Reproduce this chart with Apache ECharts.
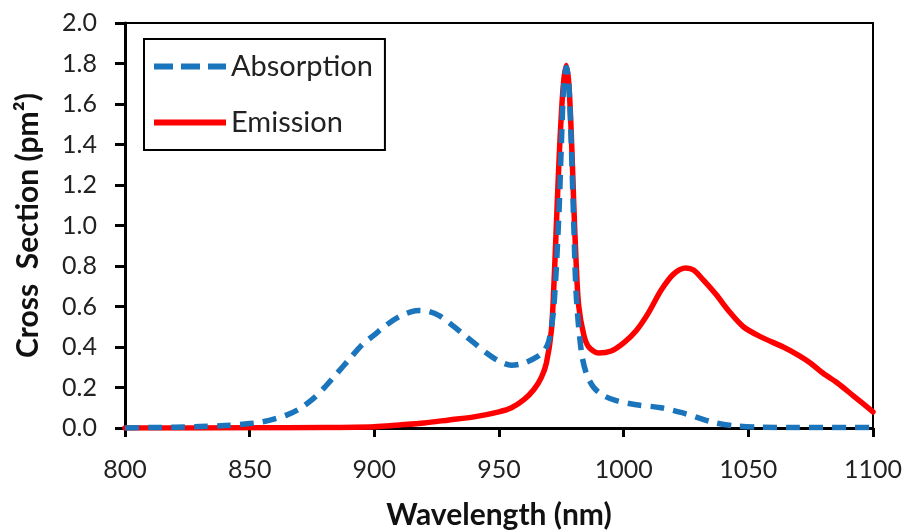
<!DOCTYPE html>
<html><head><meta charset="utf-8">
<script src="https://cdn.jsdelivr.net/npm/echarts@6/dist/echarts.min.js"></script>
<style>html,body{margin:0;padding:0;background:#fff}#c{width:911px;height:532px}</style>
</head><body><div id="c"></div>
<script>
const xTicks = [800, 850, 900, 950, 1000, 1050, 1100];
const yTicks = [0, 0.2, 0.4, 0.6, 0.8, 1.0, 1.2, 1.4, 1.6, 1.8, 2.0];

const absWl = [800,810,820,830,840,850,855,860,865,870,875,880,885,890,895,900,905,910,915,918,922,926,930,935,940,945,950,955,960,965,968,970,972,974,975,976,977,978,979,980,981,983,985,988,992,997,1005,1015,1025,1030,1037,1045,1055,1070,1100];
const absVal = [0,0.002,0.004,0.007,0.012,0.022,0.03,0.045,0.065,0.095,0.14,0.2,0.27,0.34,0.41,0.46,0.51,0.55,0.575,0.58,0.575,0.555,0.52,0.47,0.42,0.37,0.33,0.31,0.32,0.35,0.38,0.43,0.6,1.05,1.4,1.7,1.78,1.7,1.4,1.0,0.65,0.38,0.27,0.2,0.16,0.135,0.115,0.1,0.07,0.05,0.025,0.01,0.004,0.002,0.002];

const emWl = [800,850,880,900,910,920,930,940,950,955,960,964,967,969,971,972,973,974,975,976,977,978,979,980,981,982,984,986,990,995,1000,1005,1010,1015,1020,1025,1028,1032,1037,1042,1048,1055,1064,1070,1075,1080,1086,1092,1096,1100];
const emVal = [0,0.001,0.002,0.006,0.015,0.025,0.04,0.055,0.08,0.1,0.14,0.19,0.25,0.32,0.48,0.7,1.0,1.3,1.55,1.72,1.79,1.7,1.45,1.1,0.8,0.6,0.46,0.4,0.37,0.38,0.42,0.48,0.57,0.68,0.76,0.79,0.78,0.73,0.66,0.58,0.50,0.45,0.40,0.36,0.32,0.27,0.22,0.16,0.12,0.08];

const absData = absWl.map((w, i) => [w, absVal[i]]);
const emData = emWl.map((w, i) => [w, emVal[i]]);

const font = 'Lato, "Open Sans", sans-serif';
const chart = echarts.init(document.getElementById('c'));
chart.setOption({
  animation: false,
  backgroundColor: '#fff',
  grid: { left: 125, right: 38, top: 23, bottom: 104, containLabel: false, outerBoundsMode: 'none',
          show: true, borderColor: '#000', borderWidth: 2, backgroundColor: 'transparent' },
  legend: {
    left: 144, top: 39, orient: 'vertical',
    padding: [13, 12, 13, 10],
    borderColor: '#000', borderWidth: 2,
    itemWidth: 72, itemHeight: 6, itemGap: 27,
    textStyle: { fontFamily: font, fontSize: 29, color: '#222' },
    data: [
      { name: 'Absorption', icon: 'path://M0,0 L19,0 L19,6 L0,6 Z M27,0 L46,0 L46,6 L27,6 Z M54,0 L72,0 L72,6 L54,6 Z' },
      { name: 'Emission', icon: 'rect' }
    ]
  },
  xAxis: {
    type: 'value', min: 800, max: 1100, interval: 50,
    name: 'Wavelength (nm)', nameLocation: 'middle', nameGap: 72,
    nameTextStyle: { fontFamily: font, fontSize: 30, fontWeight: 'bold', color: '#111' },
    axisLine: { lineStyle: { color: '#000', width: 3 } },
    axisTick: { show: true, length: 9, lineStyle: { color: '#000', width: 3 } },
    axisLabel: { fontFamily: font, fontSize: 25, color: '#222', margin: 29, formatter: v => String(v) },
    splitLine: { show: false }
  },
  yAxis: {
    type: 'value', min: 0, max: 2, interval: 0.2,
    name: 'Cross  Section (pm²)', nameLocation: 'middle', nameGap: 82, nameRotate: 90,
    nameTextStyle: { fontFamily: font, fontSize: 30, fontWeight: 'bold', color: '#111' },
    axisLine: { show: true, lineStyle: { color: '#000', width: 3 } },
    axisTick: { show: true, length: 10, lineStyle: { color: '#000', width: 3 } },
    axisLabel: { fontFamily: font, fontSize: 25, color: '#222', margin: 28, formatter: v => v.toFixed(1) },
    splitLine: { show: false }
  },
  series: [
    { name: 'Emission', type: 'line', data: emData, smooth: 0.3, symbol: 'none', z: 2,
      lineStyle: { color: '#ff0000', width: 5.5, cap: 'round', join: 'round' }, itemStyle: { color: '#ff0000' } },
    { name: 'Absorption', type: 'line', data: absData, smooth: 0.3, symbol: 'none', z: 3,
      lineStyle: { color: '#1b75bc', width: 5.5, type: [14, 9], cap: 'butt', join: 'round' }, itemStyle: { color: '#1b75bc' } }
  ]
});
</script>
</body></html>
